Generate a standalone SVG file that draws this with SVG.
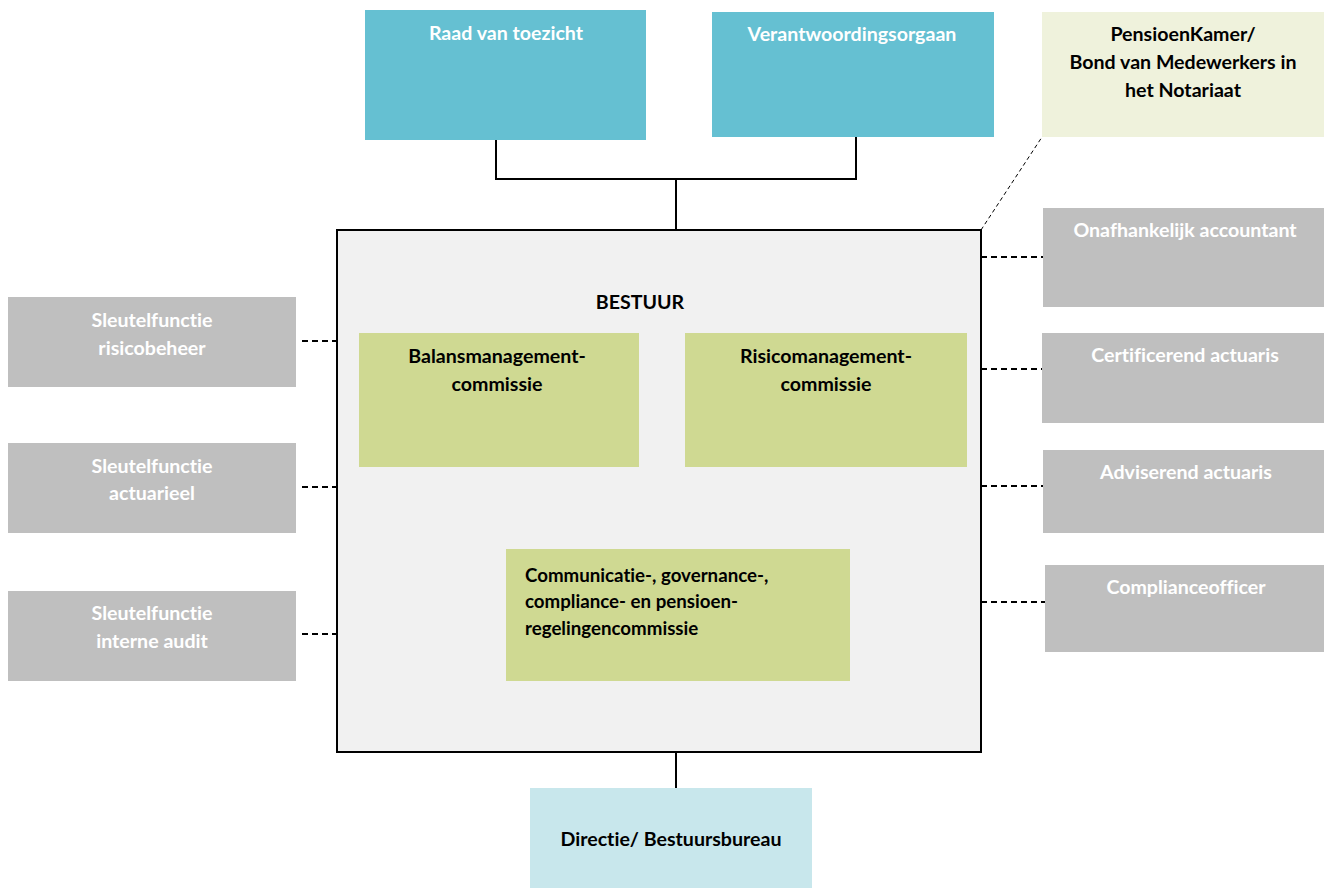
<svg xmlns="http://www.w3.org/2000/svg" width="1324" height="889" viewBox="0 0 1324 889">
<style>
text{font-family:Lato,"Open Sans","Liberation Sans",sans-serif;font-weight:bold;font-size:19.6px;font-variant-ligatures:none;font-feature-settings:"liga" 0,"dlig" 0,"clig" 0;}
.w{fill:#ffffff;text-anchor:middle}
.k{fill:#000000;text-anchor:middle}
.kl{fill:#000000;text-anchor:start;font-size:18.7px}
.blue{fill:#65c0d2}
.gray{fill:#bfbfbf}
.green{fill:#cfd992}
.pale{fill:#eff2dc}
.sky{fill:#c8e7ec}
.solid{stroke:#000;stroke-width:2;fill:none}
.dash{stroke:#000;stroke-width:2;fill:none;stroke-dasharray:6,4}
.dot{stroke:#000;stroke-width:1;fill:none;stroke-dasharray:4,3}
</style>
<rect width="1324" height="889" fill="#ffffff"/>
<g id="connectors">
<path class="solid" d="M496 137V179H856V137M676 179V230"/>
<path class="solid" d="M676 752V788"/>
<path class="dash" d="M302 341H337M302 487H337M302 634H337"/>
<path class="dash" d="M981 257H1043M981 369H1042M981 486H1043M981 602H1045"/>
<path class="dot" d="M981 230L1042 137"/>
</g>
<g id="bestuur">
<rect x="337" y="230" width="644" height="522" fill="#f1f1f1" stroke="#000" stroke-width="2"/>
<text class="k" x="640" y="309">BESTUUR</text>
</g>
<g id="raad">
<rect class="blue" x="365" y="10" width="281" height="130"/>
<text class="w" x="506" y="40">Raad van toezicht</text>
</g>
<g id="verantwoordingsorgaan">
<rect class="blue" x="712" y="12" width="282" height="125"/>
<text class="w" x="852" y="41">Verantwoordingsorgaan</text>
</g>
<g id="pensioenkamer">
<rect class="pale" x="1042" y="12" width="282" height="125"/>
<text class="k" x="1183" y="41">PensioenKamer/</text>
<text class="k" x="1183" y="69">Bond van Medewerkers in</text>
<text class="k" x="1183" y="97">het Notariaat</text>
</g>
<g id="balans">
<rect class="green" x="359" y="333" width="280" height="134"/>
<text class="k" x="497" y="363">Balansmanagement-</text>
<text class="k" x="497" y="391">commissie</text>
</g>
<g id="risico">
<rect class="green" x="685" y="333" width="282" height="134"/>
<text class="k" x="826" y="363">Risicomanagement-</text>
<text class="k" x="826" y="391">commissie</text>
</g>
<g id="communicatie">
<rect class="green" x="506" y="549" width="344" height="132"/>
<text class="kl" x="525" y="582">Communicatie-, governance-,</text>
<text class="kl" x="525" y="608">compliance- en pensioen-</text>
<text class="kl" x="525" y="635">regelingencommissie</text>
</g>
<g id="directie">
<rect class="sky" x="530" y="788" width="282" height="100"/>
<text class="k" x="671" y="846">Directie/ Bestuursbureau</text>
</g>
<g id="sf-risicobeheer">
<rect class="gray" x="8" y="297" width="288" height="90"/>
<text class="w" x="152" y="327">Sleutelfunctie</text>
<text class="w" x="152" y="355">risicobeheer</text>
</g>
<g id="sf-actuarieel">
<rect class="gray" x="8" y="443" width="288" height="90"/>
<text class="w" x="152" y="473">Sleutelfunctie</text>
<text class="w" x="152" y="500">actuarieel</text>
</g>
<g id="sf-audit">
<rect class="gray" x="8" y="591" width="288" height="90"/>
<text class="w" x="152" y="620">Sleutelfunctie</text>
<text class="w" x="152" y="648">interne audit</text>
</g>
<g id="accountant">
<rect class="gray" x="1043" y="208" width="281" height="99"/>
<text class="w" x="1185" y="237">Onafhankelijk accountant</text>
</g>
<g id="certificerend">
<rect class="gray" x="1042" y="333" width="282" height="90"/>
<text class="w" x="1185" y="362">Certificerend actuaris</text>
</g>
<g id="adviserend">
<rect class="gray" x="1043" y="450" width="281" height="83"/>
<text class="w" x="1186" y="479">Adviserend actuaris</text>
</g>
<g id="compliance">
<rect class="gray" x="1045" y="565" width="279" height="87"/>
<text class="w" x="1186" y="594">Complianceofficer</text>
</g>
</svg>
